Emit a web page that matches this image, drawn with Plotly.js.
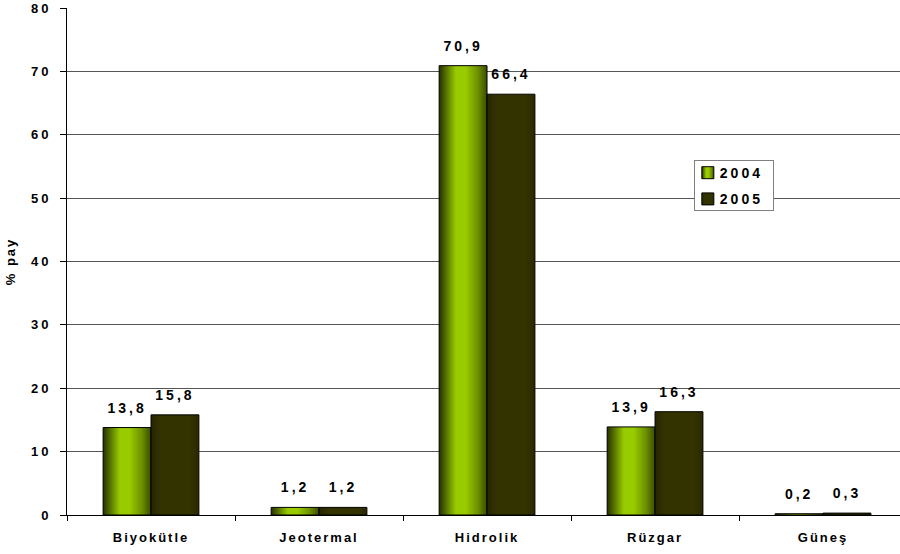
<!DOCTYPE html>
<html>
<head>
<meta charset="utf-8">
<script src="https://cdn.plot.ly/plotly-3.0.1.min.js"></script>
<style>
  html, body { margin: 0; padding: 0; background: #fff; }
  #chart { width: 900px; height: 554px; }
  .xtick text, .g-ytitle text { letter-spacing: 2px; }
  .ytick text, .bartext, .legendtext { letter-spacing: 3px; }
</style>
</head>
<body>
<div id="chart"></div>
<script>
// Share of renewable sources (% pay), 2004 vs 2005
const categories = ['Biyokütle', 'Jeotermal', 'Hidrolik', 'Rüzgar', 'Güneş'];
const values2004 = [13.8, 1.2, 70.9, 13.9, 0.2];
const values2005 = [15.8, 1.2, 66.4, 16.3, 0.3];
const seriesNames = ['2004', '2005'];
const yTicks = [0, 10, 20, 30, 40, 50, 60, 70, 80];

const FONT = 'Liberation Sans, Arial, Helvetica, sans-serif';

const base = {
  type: 'bar',
  x: categories,
  texttemplate: '%{y:.1f}',
  textposition: 'outside',
  textfont: { family: FONT, size: 14, color: '#000', weight: 'bold' },
  cliponaxis: false,
  hoverinfo: 'skip'
};

const traces = [
  Object.assign({}, base, {
    name: seriesNames[0], y: values2004, legendgroup: 'a',
    marker: { color: '#99cc00', line: { color: '#000', width: 1 } }
  }),
  Object.assign({}, base, {
    name: seriesNames[1], y: values2005, legendgroup: 'b',
    marker: { color: '#333300', line: { color: '#000', width: 1 } }
  })
];

const layout = {
  width: 900, height: 554,
  margin: { l: 67, r: 0, t: 8, b: 39 },
  paper_bgcolor: '#fff', plot_bgcolor: '#fff',
  separators: ',.',
  font: { family: FONT, size: 13, color: '#000', weight: 'bold' },
  barmode: 'group',
  bargap: 0.43,
  bargroupgap: 0,
  showlegend: true,
  legend: {
    x: 0.7525, y: 0.70, xanchor: 'left', yanchor: 'top',
    bgcolor: '#fff', bordercolor: '#808080', borderwidth: 1,
    font: { family: FONT, size: 14, color: '#000', weight: 'bold' },
    itemwidth: 30,
    tracegroupgap: 5, traceorder: 'grouped'
  },
  xaxis: {
    range: [-0.5, 4.458],
    showline: true, linecolor: '#000', linewidth: 1,
    ticks: 'outside', tickson: 'boundaries', ticklen: 5, tickcolor: '#000',
    ticklabelstandoff: 10,
    tickfont: { family: FONT, size: 13, weight: 'bold' },
    showgrid: false, zeroline: false, fixedrange: true
  },
  yaxis: {
    range: [0, 80], tickvals: yTicks,
    showline: true, linecolor: '#000', linewidth: 1,
    ticks: 'outside', ticklen: 6, tickcolor: '#000',
    ticklabelstandoff: 6,
    tickfont: { family: FONT, size: 13, weight: 'bold' },
    showgrid: true, gridcolor: '#555', gridwidth: 1,
    zeroline: false, fixedrange: true,
    title: { text: '% pay', standoff: 12, font: { family: FONT, size: 13, weight: 'bold' } }
  }
};

function addGradient(svg, id, stops) {
  const ns = 'http://www.w3.org/2000/svg';
  let defs = svg.querySelector('defs');
  if (!defs) { defs = document.createElementNS(ns, 'defs'); svg.insertBefore(defs, svg.firstChild); }
  const g = document.createElementNS(ns, 'linearGradient');
  g.setAttribute('id', id);
  g.setAttribute('x1', '0'); g.setAttribute('y1', '0');
  g.setAttribute('x2', '1'); g.setAttribute('y2', '0');
  stops.forEach(([off, col]) => {
    const s = document.createElementNS(ns, 'stop');
    s.setAttribute('offset', off);
    s.setAttribute('stop-color', col);
    g.appendChild(s);
  });
  defs.appendChild(g);
}

// prepend a translate to an element's transform attribute
function nudge(el, dx, dy) {
  const tr = el.getAttribute('transform') || '';
  el.setAttribute('transform', 'translate(' + dx + ',' + dy + ') ' + tr);
}

Plotly.newPlot('chart', traces, layout, { staticPlot: true, displayModeBar: false }).then(gd => {
  const svg = gd.querySelector('.main-svg');
  addGradient(svg, 'grad2004', [
    ['0', '#263000'], ['0.12', '#4d6600'], ['0.35', '#99cc00'],
    ['0.55', '#99cc00'], ['0.8', '#6f9200'], ['1', '#3a4d00']
  ]);
  addGradient(svg, 'grad2005', [
    ['0', '#262600'], ['0.2', '#333300'], ['0.8', '#333300'], ['1', '#292900']
  ]);
  const ids = ['grad2004', 'grad2005'];
  gd.querySelectorAll('.barlayer .trace').forEach((t, i) => {
    t.querySelectorAll('.point path').forEach(p => { p.style.fill = 'url(#' + ids[i] + ')'; });
  });

  // lift value labels a little further above the bars
  gd.querySelectorAll('.bartext').forEach(el => nudge(el, 0, -9));

  // compact legend: symbols and labels closer to the box edge
  gd.querySelectorAll('.legend .traces').forEach((t, i) => {
    t.querySelectorAll('.legendpoints path').forEach(p => { p.style.fill = 'url(#' + ids[i] + ')'; });
    nudge(t, 0, -4);
    t.querySelectorAll('.legendpoints').forEach(p => nudge(p, -7, 0));
    t.querySelectorAll('.legendtext').forEach(p => nudge(p, -15, 0));
  });
  const bg = gd.querySelector('.legend .bg');
  if (bg) {
    bg.setAttribute('width', parseFloat(bg.getAttribute('width')) - 11);
    bg.setAttribute('height', parseFloat(bg.getAttribute('height')) - 9);
  }
});
</script>
</body>
</html>
